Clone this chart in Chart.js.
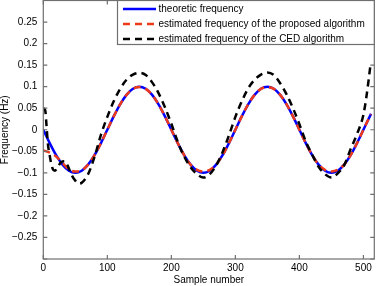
<!DOCTYPE html>
<html>
<head>
<meta charset="utf-8">
<script src="https://cdn.jsdelivr.net/npm/chart.js@4.4.0/dist/chart.umd.min.js"></script>
<style>
  html, body { margin: 0; padding: 0; background: #fff; }
  #wrap { width: 376px; height: 286px; }
</style>
</head>
<body>
<div id="wrap"><canvas id="freqChart"></canvas></div>
<script>
// sample positions for the theoretic / proposed curves
const sampleN = [0, 10, 20, 30, 40, 50, 60, 70, 80, 90, 100, 110, 120, 130, 140, 150, 160, 170, 180, 190,
  200, 210, 220, 230, 240, 250, 260, 270, 280, 290, 300, 310, 320, 330, 340, 350, 360, 370, 380, 390,
  400, 410, 420, 430, 440, 450, 460, 470, 480, 490, 500, 510, 512];

const theoretic = [0, -0.031, -0.059, -0.081, -0.095, -0.1, -0.095, -0.081, -0.059, -0.031,
  0, 0.031, 0.059, 0.081, 0.095, 0.1, 0.095, 0.081, 0.059, 0.031,
  0, -0.031, -0.059, -0.081, -0.095, -0.1, -0.095, -0.081, -0.059, -0.031,
  0, 0.031, 0.059, 0.081, 0.095, 0.1, 0.095, 0.081, 0.059, 0.031,
  0, -0.031, -0.059, -0.081, -0.095, -0.1, -0.095, -0.081, -0.059, -0.031,
  0, 0.031, 0.037];

const proposed = [-0.048, -0.053, -0.062, -0.077, -0.092, -0.097, -0.094, -0.081, -0.059, -0.031,
  0, 0.031, 0.059, 0.081, 0.095, 0.099, 0.095, 0.081, 0.059, 0.031,
  0, -0.031, -0.059, -0.081, -0.093, -0.097, -0.093, -0.081, -0.059, -0.031,
  0, 0.031, 0.059, 0.081, 0.095, 0.099, 0.095, 0.081, 0.059, 0.031,
  0, -0.031, -0.059, -0.081, -0.093, -0.097, -0.093, -0.081, -0.059, -0.031,
  0, 0.031, 0.036];

// CED estimate (sampled more densely near the start and end)
const cedN = [0, 3, 5, 7, 10, 14, 18, 22, 28, 34, 40, 45, 50, 55, 60, 70, 80, 90, 100, 110, 120, 130, 140,
  150, 160, 170, 180, 190, 200, 210, 220, 230, 240, 250, 260, 270, 280, 290, 300, 310, 320, 330, 340,
  350, 360, 370, 380, 390, 400, 410, 420, 430, 440, 450, 460, 470, 480, 490, 500, 505, 511];

const ced = [0.05, 0.045, 0.01, -0.03, -0.06, -0.088, -0.095, -0.088, -0.075, -0.073, -0.09, -0.107,
  -0.118, -0.125, -0.123, -0.103, -0.063, -0.012, 0.03, 0.066, 0.095, 0.116, 0.128,
  0.132, 0.127, 0.11, 0.085, 0.052, 0.014, -0.028, -0.062, -0.087, -0.103, -0.111, -0.103, -0.083,
  -0.052, -0.013, 0.03, 0.066, 0.096, 0.116, 0.128,
  0.133, 0.127, 0.108, 0.082, 0.05, 0.013, -0.027, -0.058, -0.086, -0.103, -0.111, -0.101, -0.082,
  -0.045, -0.01, 0.035, 0.08, 0.15];

const seriesNames = ['theoretic frequency', 'estimated frequency of the proposed algorithm',
  'estimated frequency of the CED algorithm'];

const xTicks = [0, 100, 200, 300, 400, 500];
const yTicks = [-0.3, -0.25, -0.2, -0.15, -0.1, -0.05, 0, 0.05, 0.1, 0.15, 0.2, 0.25, 0.3];
const yTickLabels = ['', '−0.25', '−0.2', '−0.15', '−0.1', '−0.05', '0', '0.05', '0.1', '0.15', '0.2', '0.25', ''];

const frameColor = '#6f6f6f';

Chart.defaults.font.family = '"Liberation Sans", Arial, sans-serif';
Chart.defaults.font.size = 10;
Chart.defaults.color = '#000';

function toPoints(xs, ys) {
  return xs.map((x, i) => ({ x: x, y: ys[i] }));
}

// box, inward ticks and the legend, drawn the way matlab does it
const framePlugin = {
  id: 'frame',
  afterDatasetsDraw(chart) {
    const ctx = chart.ctx;
    const a = chart.chartArea;
    const xs = chart.scales.x;
    const ys = chart.scales.y;
    ctx.save();
    ctx.strokeStyle = frameColor;
    ctx.lineWidth = 1.2;
    ctx.strokeRect(a.left, a.top, a.right - a.left, a.bottom - a.top);
    ctx.beginPath();
    xTicks.forEach(v => {
      const px = xs.getPixelForValue(v);
      ctx.moveTo(px, a.bottom); ctx.lineTo(px, a.bottom - 4);
      ctx.moveTo(px, a.top); ctx.lineTo(px, a.top + 4);
    });
    yTicks.forEach(v => {
      const py = ys.getPixelForValue(v);
      ctx.moveTo(a.left, py); ctx.lineTo(a.left + 4, py);
      ctx.moveTo(a.right, py); ctx.lineTo(a.right - 4, py);
    });
    ctx.stroke();

    // legend box
    const bx = 117.5, by = a.top, bw = a.right - 117.5, bh = 44;
    ctx.fillStyle = '#fff';
    ctx.fillRect(bx, by, bw, bh);
    ctx.strokeRect(bx, by, bw, bh);
    ctx.font = '10px "Liberation Sans", Arial, sans-serif';
    ctx.textBaseline = 'middle';
    chart.data.datasets.forEach((ds, i) => {
      const ly = 9 + i * 15;
      ctx.beginPath();
      ctx.setLineDash(ds.borderDash || []);
      ctx.strokeStyle = ds.borderColor;
      ctx.lineWidth = ds.borderWidth;
      ctx.moveTo(123, ly); ctx.lineTo(156, ly);
      ctx.stroke();
      ctx.setLineDash([]);
      ctx.fillStyle = '#000';
      ctx.fillText(ds.label, 158.5, ly);
    });
    ctx.restore();
  }
};

new Chart(document.getElementById('freqChart'), {
  type: 'line',
  data: {
    datasets: [{
      label: seriesNames[0],
      data: toPoints(sampleN, theoretic),
      borderColor: '#0000ff',
      borderWidth: 2.5,
      order: 2
    }, {
      label: seriesNames[1],
      data: toPoints(sampleN, proposed),
      borderColor: '#ec3a1a',
      borderWidth: 2.5,
      borderDash: [7, 5],
      order: 1
    }, {
      label: seriesNames[2],
      data: toPoints(cedN, ced),
      borderColor: '#000000',
      borderWidth: 2.5,
      borderDash: [7, 5],
      order: 0
    }]
  },
  options: {
    responsive: true,
    maintainAspectRatio: false,
    animation: false,
    devicePixelRatio: 1,
    layout: { padding: { top: 0.5, right: 1.7, left: 0, bottom: 0 } },
    elements: {
      point: { radius: 0 },
      line: { cubicInterpolationMode: 'monotone', fill: false, borderCapStyle: 'butt' }
    },
    plugins: {
      legend: { display: false },
      tooltip: { enabled: false }
    },
    scales: {
      x: {
        type: 'linear',
        min: 0,
        max: 517,
        afterBuildTicks: s => { s.ticks = xTicks.map(v => ({ value: v })); },
        afterFit: s => { s.height = 27; s.paddingLeft = 0; s.paddingRight = 0; },
        grid: { display: false, drawTicks: false },
        border: { display: false },
        ticks: { padding: 3, maxRotation: 0, autoSkip: false, color: '#000' },
        title: { display: true, text: 'Sample number', color: '#000', padding: { top: 0, bottom: 0 } }
      },
      y: {
        min: -0.3,
        max: 0.3,
        afterBuildTicks: s => { s.ticks = yTicks.map(v => ({ value: v })); },
        afterFit: s => { s.width = 43.3; s.paddingTop = 0; s.paddingBottom = 0; },
        grid: { display: false, drawTicks: false },
        border: { display: false },
        ticks: {
          padding: 6,
          autoSkip: false,
          color: '#000',
          callback: (v, i) => yTickLabels[i]
        },
        title: {
          display: true,
          text: 'Frequency (Hz)',
          color: '#000',
          font: { lineHeight: 1 },
          padding: { top: 0, bottom: 0 }
        }
      }
    }
  },
  plugins: [framePlugin]
});
</script>
</body>
</html>
